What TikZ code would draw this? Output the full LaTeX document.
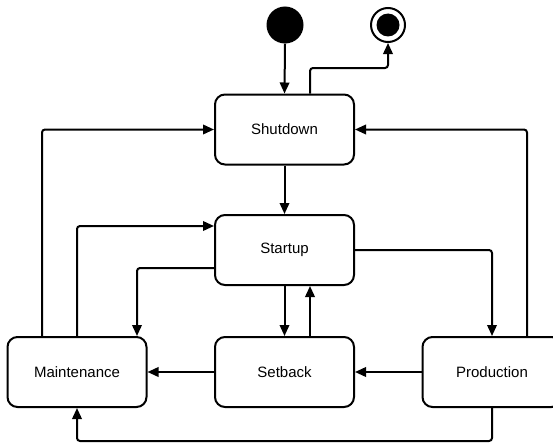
\documentclass[tikz,border=0pt]{standalone}
\usepackage{fontspec}
\setmainfont{Liberation Sans}
\usetikzlibrary{arrows.meta}
\begin{document}
\begin{tikzpicture}[x=1pt,y=-1pt,
  state/.style={draw, line width=2pt, rounded corners=10pt, minimum width=139pt, minimum height=70pt, inner sep=0pt, font=\fontsize{15}{18}\selectfont},
  arr/.style={line width=2pt, rounded corners=3pt, -{Triangle[length=11pt,width=9.5pt]}}]
\useasboundingbox (0,0) rectangle (553,444);
\node[state] (shut) at (284.5,129.5) {Shutdown};
\node[state] (start) at (284.5,250) {Startup};
\node[state] (maint) at (77,372) {Maintenance};
\node[state] (set) at (284.5,372) {Setback};
\node[state] (prod) at (492,372) {Production};
\node[circle, fill, minimum size=37pt, inner sep=0pt] (init) at (285,25) {};
\node[circle, draw, line width=2pt, minimum size=34pt, inner sep=0pt] (fin) at (388,25) {};
\node[circle, fill, minimum size=23pt, inner sep=0pt] (fininner) at (fin.center) {};
\draw[arr] (init.south) -- (shut.north);
\draw[arr] ([xshift=25.5pt]shut.north) |- ([yshift=-25pt]fin.south) -- (fin.south);
\draw[arr] (shut.south) -- (start.north);
\draw[arr] ([xshift=-35pt]maint.north) |- (shut.west);
\draw[arr] (maint.north) |- ([yshift=24pt]start.west);
\draw[arr] ([yshift=-18pt]start.west) -| ([xshift=60pt]maint.north);
\draw[arr] (start.east) -| (prod.north);
\draw[arr] (start.south) -- (set.north);
\draw[arr] ([xshift=25.5pt]set.north) -- ([xshift=25.5pt]start.south);
\draw[arr] ([xshift=35pt]prod.north) |- (shut.east);
\draw[arr] (prod.west) -- (set.east);
\draw[arr] (set.west) -- (maint.east);
\draw[arr] (prod.south) -- ++(0,33) -| (maint.south);
\end{tikzpicture}
\end{document}
